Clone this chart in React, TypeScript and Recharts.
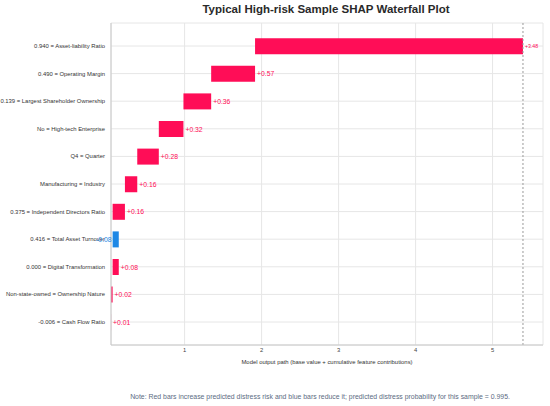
import { BarChart, Bar, XAxis, YAxis, CartesianGrid, Cell, LabelList, ReferenceLine } from 'recharts'

const featureLabels = [
  '0.940 = Asset-liability Ratio',
  '0.490 = Operating Margin',
  '0.139 = Largest Shareholder Ownership',
  'No = High-tech Enterprise',
  'Q4 = Quarter',
  'Manufacturing = Industry',
  '0.375 = Independent Directors Ratio',
  '0.416 = Total Asset Turnover',
  '0.000 = Digital Transformation',
  'Non-state-owned = Ownership Nature',
  '-0.006 = Cash Flow Ratio',
]
const shapValues = [3.48, 0.57, 0.36, 0.32, 0.28, 0.16, 0.16, -0.08, 0.08, 0.02, 0.01]
const baseValue = 0.035
const xTicks = [1, 2, 3, 4, 5]

const RED = '#ff0d57'
const BLUE = '#1e88e5'
const FONT = '"Liberation Sans", Arial, sans-serif'

// waterfall: accumulate from the bottom row upwards
const rows = featureLabels.map((name, i) => ({ name, shap: shapValues[i], range: [0, 0] as number[] }))
let running = baseValue
for (let i = rows.length - 1; i >= 0; i--) {
  const next = running + rows[i].shap
  rows[i].range = [Math.min(running, next), Math.max(running, next)]
  running = next
}
const finalValue = running

const fmt = (v: number) => (v >= 0 ? '+' : '') + v.toFixed(2)

function ValueLabel(props: any) {
  const { x, y, width, height, index } = props
  const v = rows[index].shap
  const cy = y + height / 2
  if (v < 0) {
    return (
      <text x={x - 1} y={cy} textAnchor="end" dominantBaseline="central" fill={BLUE} fontSize={6.8} fontFamily={FONT}>
        {fmt(v)}
      </text>
    )
  }
  const end = x + width
  const small = end > 500
  return (
    <text x={end + 2} y={cy} textAnchor="start" dominantBaseline="central" fill={RED} fontSize={small ? 5.2 : 6.8} fontFamily={FONT}>
      {fmt(v)}
    </text>
  )
}

function FeatureTick(props: any) {
  const { x, y, payload } = props
  return (
    <text x={x} y={y} textAnchor="end" dominantBaseline="central" fill="#333" fontSize={5.9} fontFamily={FONT}>
      {payload.value}
    </text>
  )
}

export default function App() {
  return (
    <div style={{ position: 'absolute', left: 0, top: 0, width: 550, height: 406, background: '#fff', fontFamily: FONT }}>
      <div style={{ position: 'absolute', left: 0, width: 652, top: 3, textAlign: 'center', fontSize: 11.5, fontWeight: 'bold', color: '#2a2a2a' }}>
        Typical High-risk Sample SHAP Waterfall Plot
      </div>
      <BarChart width={550} height={406} data={rows} layout="vertical" margin={{ top: 23, right: 7, bottom: 31, left: 0 }}>
        <CartesianGrid stroke="#e6e6e6" />
        <XAxis
          type="number"
          domain={[0.044, 5.655]}
          ticks={xTicks}
          allowDataOverflow
          tickLine={false}
          tickSize={2}
          tickMargin={1}
          axisLine={{ stroke: '#c8c8c8' }}
          tick={{ fontSize: 5.8, fill: '#444', fontFamily: FONT }}
          height={30}
          label={{ value: 'Model output path (base value + cumulative feature contributions)', position: 'insideBottom', offset: 11, fontSize: 5.9, fill: '#333', fontFamily: FONT }}
        />
        <YAxis
          type="category"
          dataKey="name"
          width={111}
          padding={{ top: 9.2, bottom: 9.2 }}
          tickLine={false}
          tickSize={3}
          tickMargin={3}
          axisLine={{ stroke: '#c8c8c8' }}
          tick={<FeatureTick />}
          interval={0}
        />
        <ReferenceLine x={finalValue} stroke="#9a9a9a" strokeDasharray="2 2" strokeWidth={1} />
        <Bar dataKey="range" barSize={16} isAnimationActive={false}>
          {rows.map((r, i) => (
            <Cell key={i} fill={r.shap < 0 ? BLUE : RED} />
          ))}
          <LabelList dataKey="shap" content={ValueLabel} />
        </Bar>
      </BarChart>
      <div style={{ position: 'absolute', left: 0, width: 640, top: 393, textAlign: 'center', fontSize: 6.9, color: '#5b6b82' }}>
        Note: Red bars increase predicted distress risk and blue bars reduce it; predicted distress probability for this sample = 0.995.
      </div>
    </div>
  )
}
